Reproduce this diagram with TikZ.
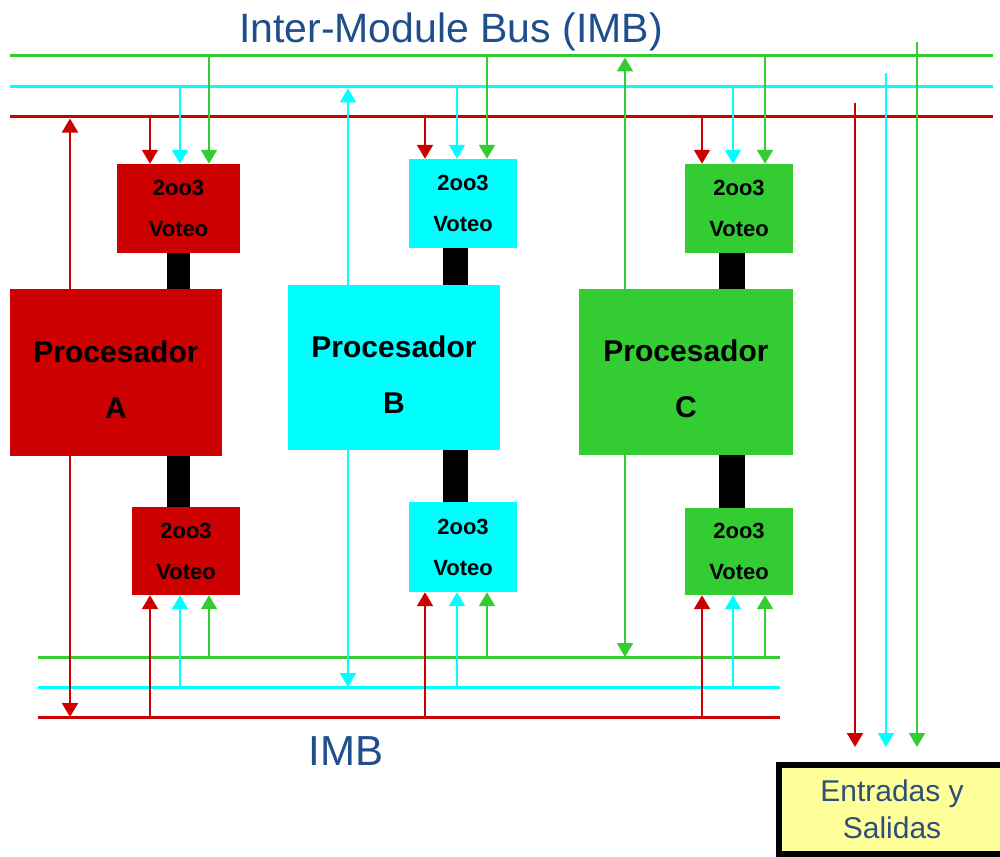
\documentclass[tikz,border=0pt]{standalone}
\usepackage{fontspec}
\setmainfont{Liberation Sans}
\usetikzlibrary{arrows.meta}
\definecolor{cr}{HTML}{CC0000}
\definecolor{cc}{HTML}{00FFFF}
\definecolor{cg}{HTML}{33CC33}
\definecolor{ttl}{HTML}{1F4E8C}
\definecolor{iot}{HTML}{2F4F7A}
\definecolor{ylw}{HTML}{FFFF99}
\begin{document}
\begin{tikzpicture}[x=1pt,y=-1pt,
  bus/.style={line width=3pt},
  tap/.style={line width=2pt,-{Triangle[length=14pt,width=16pt]}},
  voter/.style={inner sep=0pt,align=center,font=\bfseries\fontsize{22}{41}\selectfont},
  proc/.style={inner sep=0pt,align=center,font=\bfseries\fontsize{30}{56}\selectfont},
  blk/.style={fill=black}]
\useasboundingbox (0,0) rectangle (1000,856);

% title
\node[anchor=base,text=ttl,font=\fontsize{41}{41}\selectfont] (title) at (451,43) {Inter-Module Bus (IMB)};
\node[anchor=base,text=ttl,font=\fontsize{42}{42}\selectfont] (imb) at (346,765) {IMB};

% top buses
\coordinate (gTl) at (10,56);  \coordinate (gTr) at (993,56);
\coordinate (cTl) at (10,87);  \coordinate (cTr) at (993,87);
\coordinate (rTl) at (10,117); \coordinate (rTr) at (993,117);
% bottom buses
\coordinate (gBl) at (38,657); \coordinate (gBr) at (780,657);
\coordinate (cBl) at (38,687); \coordinate (cBr) at (780,687);
\coordinate (rBl) at (38,717); \coordinate (rBr) at (780,717);

\draw[bus,cg] (gTl) -- (gTr);
\draw[bus,cc] (cTl) -- (cTr);
\draw[bus,cr] (rTl) -- (rTr);
\draw[bus,cg] (gBl) -- (gBr);
\draw[bus,cc] (cBl) -- (cBr);
\draw[bus,cr] (rBl) -- (rBr);

% voters
\node[voter,fill=cr,minimum width=123,minimum height=89] (vAt) at (178.5,208.5) {2oo3\\Voteo};
\node[voter,fill=cr,minimum width=108,minimum height=88] (vAb) at (186,551) {2oo3\\Voteo};
\node[voter,fill=cc,minimum width=108,minimum height=89] (vBt) at (463,203.5) {2oo3\\Voteo};
\node[voter,fill=cc,minimum width=108,minimum height=90] (vBb) at (463,547) {2oo3\\Voteo};
\node[voter,fill=cg,minimum width=108,minimum height=89] (vCt) at (739,208.5) {2oo3\\Voteo};
\node[voter,fill=cg,minimum width=108,minimum height=87] (vCb) at (739,551.5) {2oo3\\Voteo};

% processors
\node[proc,fill=cr,minimum width=212,minimum height=167] (pA) at (116,372.5) {\rule{0pt}{35pt}Procesador\\A};
\node[proc,fill=cc,minimum width=212,minimum height=165] (pB) at (394,367.5) {\rule{0pt}{35pt}Procesador\\B};
\node[proc,fill=cg,minimum width=214,minimum height=166] (pC) at (686,372) {\rule{0pt}{35pt}Procesador\\C};

% black links
\fill[blk] (167,253) rectangle (190,289);
\fill[blk] (167,456) rectangle (190,507);
\fill[blk] (443,248) rectangle (468,285);
\fill[blk] (443,450) rectangle (468,502);
\fill[blk] (719,253) rectangle (745,289);
\fill[blk] (719,455) rectangle (745,508);

% taps from top buses to top voters, from bottom buses to bottom voters
\foreach \m/\xr/\xc/\xg in {A/150/180/209, B/425/457/487, C/702/733/765}{
  \coordinate (tr\m) at (\xr,117);
  \coordinate (tc\m) at (\xc,87);
  \coordinate (tg\m) at (\xg,56);
  \coordinate (br\m) at (\xr,717);
  \coordinate (bc\m) at (\xc,687);
  \coordinate (bg\m) at (\xg,657);
  \draw[tap,cr] (tr\m) -- (tr\m |- v\m t.north);
  \draw[tap,cc] (tc\m) -- (tc\m |- v\m t.north);
  \draw[tap,cg] (tg\m) -- (tg\m |- v\m t.north);
  \draw[tap,cr] (br\m) -- (br\m |- v\m b.south);
  \draw[tap,cc] (bc\m) -- (bc\m |- v\m b.south);
  \draw[tap,cg] (bg\m) -- (bg\m |- v\m b.south);
}

% processor to buses
\coordinate (lAt) at (70,118.5); \coordinate (lAb) at (70,717);
\coordinate (lBt) at (348,88.5); \coordinate (lBb) at (348,687);
\coordinate (lCt) at (625,57.5); \coordinate (lCb) at (625,657);
\draw[tap,cr] (pA.north -| lAt) -- (lAt);
\draw[tap,cr] (pA.south -| lAb) -- (lAb);
\draw[tap,cc] (pB.north -| lBt) -- (lBt);
\draw[tap,cc] (pB.south -| lBb) -- (lBb);
\draw[tap,cg] (pC.north -| lCt) -- (lCt);
\draw[tap,cg] (pC.south -| lCb) -- (lCb);

% inputs / outputs
\node[draw=black,line width=6pt,fill=ylw,minimum width=226,minimum height=89,
      align=center,text=iot,font=\fontsize{30}{37}\selectfont] (io) at (892,809.5) {Entradas y\\Salidas};
\coordinate (eR) at (855,103); \coordinate (eRe) at (855,747);
\coordinate (eC) at (886,73);  \coordinate (eCe) at (886,747);
\coordinate (eG) at (917,42);  \coordinate (eGe) at (917,747);
\draw[tap,cr] (eR) -- (eRe);
\draw[tap,cc] (eC) -- (eCe);
\draw[tap,cg] (eG) -- (eGe);
\end{tikzpicture}
\end{document}
